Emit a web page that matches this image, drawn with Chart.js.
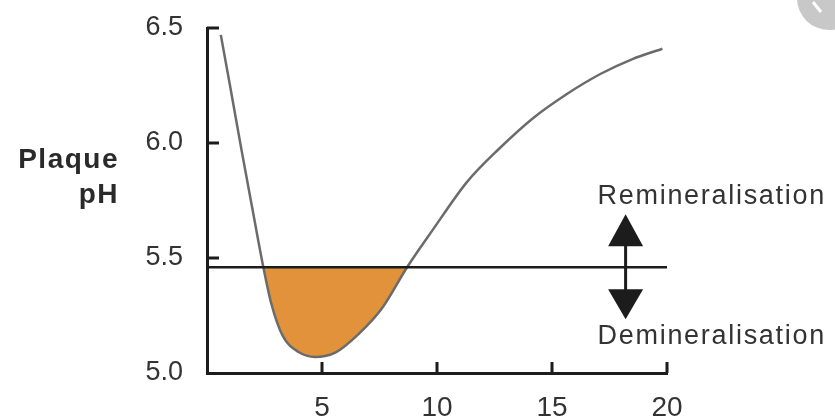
<!DOCTYPE html>
<html>
<head>
<meta charset="utf-8">
<script src="https://cdn.jsdelivr.net/npm/chart.js@4.4.0/dist/chart.umd.min.js"></script>
<style>
html, body { margin: 0; padding: 0; background: #fff; }
canvas { display: block; }
</style>
</head>
<body>
<canvas id="phCurve" width="835" height="417"></canvas>
<script>
'use strict'

// minutes after sugar intake and plaque pH
var minutes = [0.6, 1.0, 1.5, 2.0, 2.45, 2.8, 3.3, 4.0, 4.7, 5.6, 6.6, 7.6, 8.7, 9.8, 11.3, 12.7, 14.2, 15.6, 17.1, 18.5, 19.8];
var plaquePh = [6.47, 6.25, 5.97, 5.70, 5.46, 5.30, 5.16, 5.09, 5.07, 5.09, 5.17, 5.28, 5.46, 5.62, 5.83, 5.975, 6.11, 6.21, 6.30, 6.365, 6.41];

// critical pH line
var criticalPh = 5.46;
var criticalSpan = [0, 20];

var xTicks = [5, 10, 15, 20];
var yTicks = [5.0, 5.5, 6.0, 6.5];

var axisLabel = ['Plaque', 'pH'];
var upperLabel = 'Remineralisation';
var lowerLabel = 'Demineralisation';
var arrowAt = 18.2;

var FONT = "'Liberation Sans', Arial, Helvetica, sans-serif";
var INK = '#1c1c1c';

var extras = {
    id: 'extras',
    afterDraw: function (chart) {
        var ctx = chart.ctx;
        var x = chart.scales.x;
        var y = chart.scales.y;
        var area = chart.chartArea;
        ctx.save();

        // tick marks pointing into the plot
        ctx.strokeStyle = INK;
        ctx.lineWidth = 3;
        ctx.beginPath();
        xTicks.forEach(function (v) {
            var px = x.getPixelForValue(v);
            ctx.moveTo(px, area.bottom);
            ctx.lineTo(px, area.bottom - 11);
        });
        yTicks.forEach(function (v) {
            if (v === y.min) return;
            var py = y.getPixelForValue(v);
            ctx.moveTo(area.left, py);
            ctx.lineTo(area.left + 12, py);
        });
        ctx.stroke();

        // axis title, horizontal and right aligned
        ctx.fillStyle = '#2a2a2a';
        ctx.font = 'bold 28px ' + FONT;
        ctx.letterSpacing = '1.5px';
        ctx.textAlign = 'right';
        ctx.textBaseline = 'alphabetic';
        var ty = y.getPixelForValue(6.0);
        ctx.fillText(axisLabel[0], area.left - 88, ty + 25);
        ctx.fillText(axisLabel[1], area.left - 88, ty + 60);

        // double arrow across the critical line
        var ax = x.getPixelForValue(arrowAt);
        var ly = y.getPixelForValue(criticalPh);
        ctx.fillStyle = INK;
        ctx.lineWidth = 3;
        ctx.beginPath();
        ctx.moveTo(ax, ly - 30);
        ctx.lineTo(ax, ly + 25);
        ctx.stroke();
        ctx.beginPath();
        ctx.moveTo(ax, ly - 53);
        ctx.lineTo(ax + 17.5, ly - 21);
        ctx.lineTo(ax - 17.5, ly - 21);
        ctx.closePath();
        ctx.fill();
        ctx.beginPath();
        ctx.moveTo(ax - 17.5, ly + 22);
        ctx.lineTo(ax + 17.5, ly + 22);
        ctx.lineTo(ax, ly + 52);
        ctx.closePath();
        ctx.fill();

        ctx.fillStyle = '#333';
        ctx.font = '27px ' + FONT;
        ctx.letterSpacing = '1.7px';
        ctx.textAlign = 'left';
        ctx.fillText(upperLabel, ax - 28, ly - 63);
        ctx.fillText(lowerLabel, ax - 28, ly + 77);

        // grey round button in the corner of the screenshot
        ctx.letterSpacing = '0px';
        ctx.fillStyle = '#c8c8c8';
        ctx.beginPath();
        ctx.arc(chart.width - 6, -2, 32, 0, Math.PI * 2);
        ctx.fill();
        ctx.strokeStyle = '#fff';
        ctx.lineWidth = 3;
        ctx.beginPath();
        ctx.moveTo(chart.width - 22, 2);
        ctx.lineTo(chart.width - 14, 12);
        ctx.stroke();

        ctx.restore();
    }
};

new Chart(document.getElementById('phCurve').getContext('2d'), {
    type: 'line',
    data: {
        datasets: [
            {
                label: 'Critical pH',
                data: criticalSpan.map(function (t) { return { x: t, y: criticalPh }; }),
                borderColor: INK,
                borderWidth: 2.5,
                pointRadius: 0,
                fill: false,
                order: 1
            },
            {
                label: 'Plaque pH',
                data: minutes.map(function (t, i) { return { x: t, y: plaquePh[i] }; }),
                borderColor: '#6b6b6b',
                borderWidth: 2.5,
                pointRadius: 0,
                cubicInterpolationMode: 'monotone',
                fill: {
                    target: { value: criticalPh },
                    above: 'rgba(0,0,0,0)',
                    below: '#e1923a'
                },
                order: 2
            }
        ]
    },
    options: {
        responsive: false,
        animation: false,
        layout: { padding: { top: 28, right: 168, left: 0, bottom: 0 } },
        plugins: {
            legend: { display: false },
            tooltip: { enabled: false }
        },
        scales: {
            x: {
                type: 'linear',
                min: 0,
                max: 20,
                grid: { display: false, drawTicks: false },
                border: { display: true, color: INK, width: 3 },
                ticks: {
                    stepSize: 5,
                    padding: 18,
                    color: '#333',
                    font: { family: FONT, size: 28 },
                    callback: function (v) { return v === 0 ? '' : v; }
                },
                afterFit: function (scale) {
                    scale.height = 44;
                    scale.paddingLeft = 0;
                    scale.paddingRight = 0;
                }
            },
            y: {
                type: 'linear',
                min: 5,
                max: 6.5,
                grid: { display: false, drawTicks: false },
                border: { display: true, color: INK, width: 3 },
                ticks: {
                    stepSize: 0.5,
                    padding: 24,
                    color: '#333',
                    font: { family: FONT, size: 27 },
                    callback: function (v) { return v.toFixed(1); }
                },
                afterFit: function (scale) {
                    scale.width = 207;
                    scale.paddingTop = 0;
                    scale.paddingBottom = 0;
                }
            }
        }
    },
    plugins: [extras]
});
</script>
</body>
</html>
